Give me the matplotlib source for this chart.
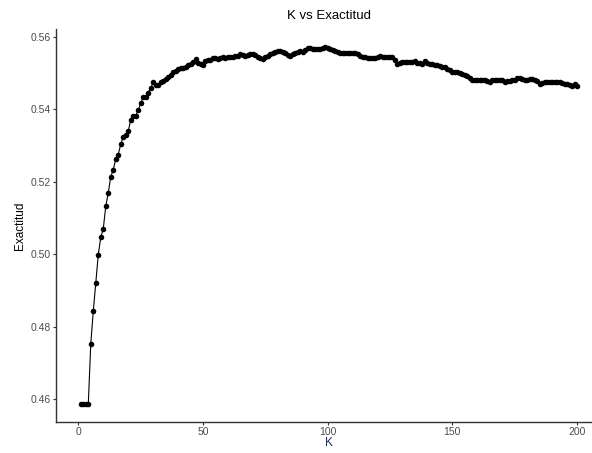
import matplotlib
matplotlib.use('Agg')
import matplotlib.pyplot as plt
import numpy as np

plt.rcParams['font.family'] = ['Liberation Sans', 'DejaVu Sans']

# Accuracy for each K
k_values = list(range(1, 201))
accuracy = [
    0.4587, 0.4587, 0.4587, 0.4587, 0.4754, 0.4843, 0.4922, 0.4999, 0.5047, 0.5070,
    0.5132, 0.5169, 0.5214, 0.5233, 0.5263, 0.5275, 0.5303, 0.5324, 0.5328, 0.5339,
    0.5370, 0.5382, 0.5382, 0.5397, 0.5416, 0.5433, 0.5434, 0.5446, 0.5458, 0.5474,
    0.5468, 0.5468, 0.5474, 0.5478, 0.5483, 0.5488, 0.5494, 0.5502, 0.5506, 0.5512,
    0.5515, 0.5515, 0.5516, 0.5523, 0.5526, 0.5530, 0.5539, 0.5528, 0.5525, 0.5521,
    0.5532, 0.5537, 0.5536, 0.5540, 0.5540, 0.5538, 0.5542, 0.5544, 0.5541, 0.5545,
    0.5543, 0.5545, 0.5548, 0.5546, 0.5551, 0.5549, 0.5548, 0.5550, 0.5551, 0.5552,
    0.5549, 0.5544, 0.5541, 0.5539, 0.5543, 0.5546, 0.5552, 0.5556, 0.5559, 0.5560,
    0.5560, 0.5559, 0.5555, 0.5549, 0.5548, 0.5552, 0.5556, 0.5559, 0.5560, 0.5558,
    0.5563, 0.5570, 0.5568, 0.5566, 0.5565, 0.5566, 0.5567, 0.5569, 0.5572, 0.5569,
    0.5566, 0.5564, 0.5560, 0.5557, 0.5554, 0.5556, 0.5555, 0.5554, 0.5554, 0.5555,
    0.5554, 0.5552, 0.5548, 0.5544, 0.5543, 0.5542, 0.5542, 0.5542, 0.5542, 0.5545,
    0.5546, 0.5544, 0.5543, 0.5543, 0.5543, 0.5543, 0.5535, 0.5525, 0.5528, 0.5530,
    0.5529, 0.5530, 0.5530, 0.5531, 0.5532, 0.5528, 0.5528, 0.5526, 0.5532, 0.5527,
    0.5525, 0.5525, 0.5523, 0.5522, 0.5518, 0.5517, 0.5516, 0.5511, 0.5507, 0.5504,
    0.5504, 0.5502, 0.5501, 0.5498, 0.5495, 0.5492, 0.5485, 0.5482, 0.5480, 0.5481,
    0.5482, 0.5481, 0.5480, 0.5478, 0.5476, 0.5480, 0.5482, 0.5482, 0.5482, 0.5480,
    0.5476, 0.5477, 0.5479, 0.5480, 0.5482, 0.5485, 0.5487, 0.5484, 0.5482, 0.5482,
    0.5483, 0.5483, 0.5481, 0.5478, 0.5470, 0.5472, 0.5474, 0.5474, 0.5474, 0.5474,
    0.5474, 0.5475, 0.5474, 0.5471, 0.5470, 0.5469, 0.5466, 0.5463, 0.5469, 0.5465,
]
x_ticks = [0, 50, 100, 150, 200]
y_ticks = [0.46, 0.48, 0.50, 0.52, 0.54, 0.56]

fig = plt.figure(figsize=(5.92, 4.53), dpi=100)
# the panel runs past the right edge, as in the cropped original
ax = fig.add_axes([0.0946, 0.0684, 0.922, 0.8676])

ax.plot(k_values, accuracy, color='black', linewidth=0.8,
        marker='o', markersize=4.0, markeredgewidth=0)

# ggplot-style 5% expansion
xr = max(k_values) - min(k_values)
yr = max(accuracy) - min(accuracy)
ax.set_xlim(min(k_values) - 0.05 * xr, max(k_values) + 0.05 * xr)
ax.set_ylim(min(accuracy) - 0.05 * yr, max(accuracy) + 0.05 * yr)

ax.set_xticks(x_ticks)
ax.set_yticks(y_ticks)
ax.set_yticklabels(['{:.2f}'.format(v) for v in y_ticks])

for side in ('top', 'right'):
    ax.spines[side].set_visible(False)
for side in ('left', 'bottom'):
    ax.spines[side].set_color('#333333')
    ax.spines[side].set_linewidth(1.0)
ax.tick_params(length=2.5, width=0.8, color='#333333', labelcolor='#4d4d4d',
               labelsize=7.5, pad=1.5)
ax.tick_params(axis='x', pad=1.0)

ax.set_xlabel('K', fontsize=8.5, color='#1f2f5a', labelpad=0)
ax.set_ylabel('Exactitud', fontsize=8.5, color='black', labelpad=3)
ax.set_title('K vs Exactitud', fontsize=9.5, color='black', pad=7)

fig.savefig('out.png', dpi=100)
